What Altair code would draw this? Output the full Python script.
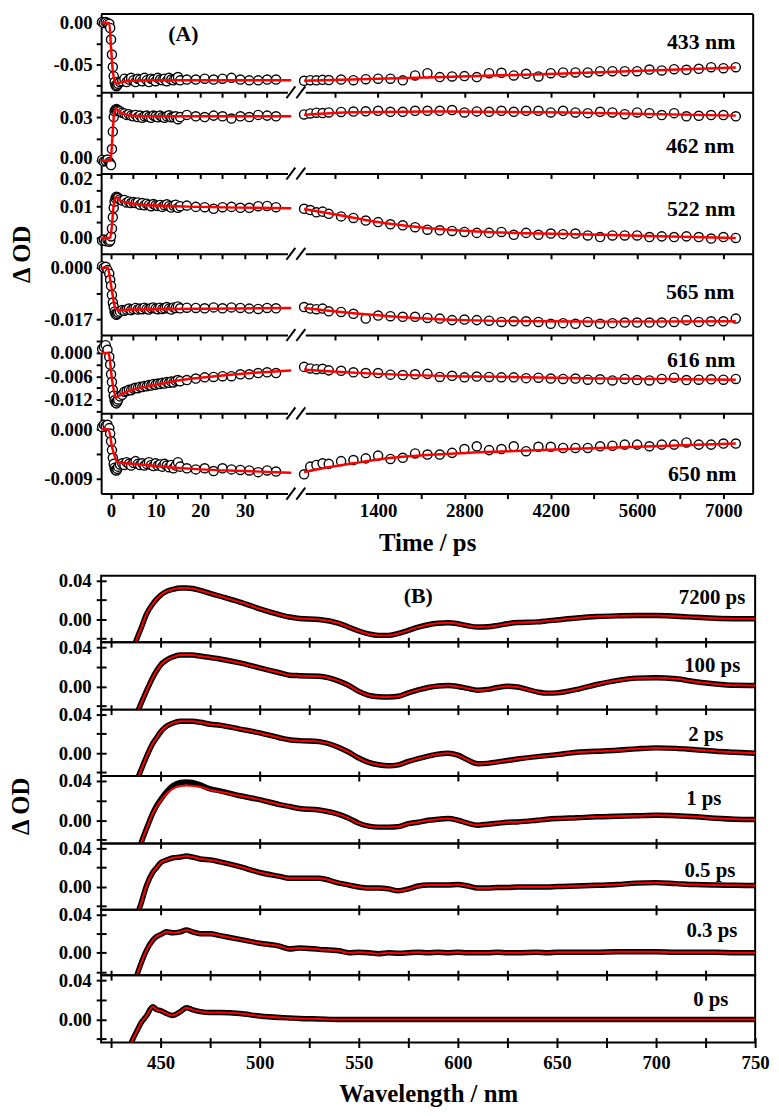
import altair as alt
import pandas as pd

FONT = "Liberation Serif"

# ---------------- Panel (A): kinetic traces (time in ps) ----------------
TL = [-2.0, -1.6, -1.2, -0.8, -0.4, -0.2, 0.0, 0.2, 0.4, 0.6, 0.8, 1.0, 1.2, 1.4, 1.6,
      2.0, 2.5, 3.0, 3.5, 4.0, 4.5, 5.0, 5.5, 6.0, 6.5, 7.0, 7.5, 8.0, 8.5, 9.0, 9.5,
      10.0, 10.5, 11.0, 11.5, 12.0, 12.5, 13.0, 13.5, 14.0, 14.5, 15.0, 15.5,
      17.0, 19.0, 21.0, 23.0, 25.0, 27.0, 29.0, 31.0, 33.0, 35.0, 37.0]
TR = [200, 300, 400, 500, 600, 800, 1000, 1200, 1400, 1600, 1800, 2000, 2200, 2400, 2600,
      2800, 3000, 3200, 3400, 3600, 3800, 4000, 4200, 4400, 4600, 4800, 5000, 5200, 5400,
      5600, 5800, 6000, 6200, 6400, 6600, 6800, 7000, 7200]

A433_L = [0.001, 0.000, 0.001, 0.000, -0.001, -0.006, -0.020, -0.038, -0.053, -0.064, -0.071, -0.075, -0.076, -0.075, -0.073,
          -0.071, -0.070, -0.067, -0.071, -0.068, -0.066, -0.069, -0.071, -0.067, -0.068, -0.070, -0.066, -0.069, -0.071,
          -0.067, -0.068, -0.070, -0.066, -0.068, -0.069, -0.067, -0.070, -0.066, -0.068, -0.069, -0.067, -0.065, -0.069,
          -0.068, -0.068, -0.067, -0.068, -0.067, -0.066, -0.068, -0.069, -0.069, -0.068, -0.068]
A433_R = [-0.0695, -0.0688, -0.0690, -0.0684, -0.0686, -0.0680, -0.0688, -0.0676,
          -0.0670, -0.0670, -0.0690, -0.0631, -0.0604, -0.0651, -0.0643, -0.0639, -0.0651, -0.0604,
          -0.0599, -0.0631, -0.0611, -0.0643, -0.0604, -0.0595, -0.0595, -0.0595, -0.0580, -0.0580,
          -0.0580, -0.0580, -0.0560, -0.0571, -0.0556, -0.0563, -0.0551, -0.0532, -0.0544, -0.0532]
F433_LT = [-2.2, -0.4, 0.0, 0.4, 0.7, 1.1, 2.0, 3.0, 5.0, 10.0, 40.4]
F433_LV = [0.0, 0.0, -0.030, -0.058, -0.068, -0.0726, -0.0715, -0.0703, -0.0695, -0.0690, -0.0690]
F433_RT = [200, 1400, 4300, 7200]
F433_RV = [-0.0695, -0.0670, -0.0611, -0.0536]

A462_L = [0.0005, -0.0005, 0.000, 0.0008, -0.001, -0.002, -0.003, 0.008, 0.020, 0.030, 0.034, 0.035, 0.0355, 0.035, 0.0345,
          0.034, 0.033, 0.0325, 0.0315, 0.032, 0.031, 0.0305, 0.0315, 0.030, 0.031, 0.0295, 0.0305, 0.031, 0.030,
          0.0295, 0.031, 0.0305, 0.0298, 0.031, 0.030, 0.0295, 0.0305, 0.0312, 0.0298, 0.030, 0.0305, 0.0285, 0.030,
          0.0315, 0.0305, 0.030, 0.031, 0.0305, 0.029, 0.0305, 0.030, 0.0315, 0.031, 0.0305]
A462_R = [0.0318, 0.0325, 0.0330, 0.0328, 0.0332, 0.0335, 0.0338, 0.0340,
          0.0343, 0.0336, 0.0336, 0.0343, 0.0343, 0.0343, 0.0348, 0.0332, 0.0339, 0.0336,
          0.0343, 0.0336, 0.0343, 0.0343, 0.0332, 0.0343, 0.0332, 0.0327, 0.0336, 0.0332,
          0.0320, 0.0332, 0.0327, 0.0314, 0.0327, 0.0305, 0.0309, 0.0314, 0.0314, 0.0305]
F462_LT = [-2.2, -0.1, 0.3, 0.7, 1.1, 2.0, 3.0, 5.0, 10.0, 40.4]
F462_LV = [0.0, 0.0, 0.016, 0.033, 0.0355, 0.0335, 0.0320, 0.0310, 0.0306, 0.0305]
F462_RT = [200, 1000, 2500, 4500, 7200]
F462_RV = [0.0315, 0.0333, 0.0338, 0.0332, 0.0310]

A522_L = [-0.0008, -0.0005, -0.0010, -0.0006, -0.0012, -0.0008, 0.0005, 0.003, 0.0065, 0.0095, 0.0115, 0.0125, 0.0130, 0.0128, 0.0126,
          0.0122, 0.0118, 0.0120, 0.0112, 0.0115, 0.0110, 0.0113, 0.0110, 0.0112, 0.0105, 0.0110, 0.0103, 0.0108, 0.0104,
          0.0100, 0.0107, 0.0103, 0.0101, 0.0104, 0.0098, 0.0103, 0.0106, 0.0100, 0.0096, 0.0102, 0.0105, 0.0095, 0.0100,
          0.0102, 0.0098, 0.0097, 0.0092, 0.0097, 0.0098, 0.0095, 0.0095, 0.0100, 0.0101, 0.0097]
A522_R = [0.0092, 0.0088, 0.0081, 0.0083, 0.0076, 0.0068, 0.0063, 0.0055,
          0.0050, 0.0043, 0.0040, 0.0034, 0.0026, 0.0024, 0.0022, 0.0019, 0.0016, 0.0016,
          0.0019, 0.0010, 0.0016, 0.0010, 0.0014, 0.0012, 0.0014, 0.0008, 0.0003, 0.0008,
          0.0008, 0.0008, 0.0003, 0.0005, 0.0003, 0.0005, 0.0003, -0.0002, 0.0003, 0.0000]
F522_LT = [-2.2, -0.2, 0.2, 0.6, 1.1, 2.0, 4.0, 10.0, 20.0, 40.4]
F522_LV = [0.0, 0.0, 0.004, 0.0105, 0.0128, 0.0118, 0.0110, 0.0102, 0.0098, 0.0094]
F522_RT = [200, 600, 1000, 1400, 2000, 3000, 4600, 5800, 7200]
F522_RV = [0.0091, 0.0078, 0.0064, 0.0050, 0.0035, 0.0020, 0.0012, 0.0006, 0.0000]

A565_L = [0.0005, 0.0, 0.0003, -0.0008, -0.002, -0.004, -0.006, -0.009, -0.0115, -0.013, -0.0145, -0.0152, -0.0155, -0.0152, -0.0148,
          -0.0145, -0.0140, -0.0142, -0.0138, -0.0135, -0.0140, -0.0136, -0.0133, -0.0138, -0.0135, -0.0137, -0.0132, -0.0136, -0.0138,
          -0.0133, -0.0131, -0.0135, -0.0137, -0.0132, -0.0136, -0.0134, -0.0130, -0.0135, -0.0138, -0.0131, -0.0133, -0.0128, -0.0134,
          -0.0132, -0.0133, -0.0134, -0.0131, -0.0134, -0.0131, -0.0133, -0.0135, -0.0136, -0.0133, -0.0134]
A565_R = [-0.0130, -0.0135, -0.0137, -0.0135, -0.0144, -0.0146, -0.0152, -0.0168,
          -0.0158, -0.0160, -0.0162, -0.0162, -0.0166, -0.0168, -0.0173, -0.0171, -0.0173, -0.0175,
          -0.0179, -0.0177, -0.0177, -0.0179, -0.0185, -0.0183, -0.0185, -0.0179, -0.0185, -0.0183,
          -0.0181, -0.0181, -0.0181, -0.0181, -0.0179, -0.0173, -0.0179, -0.0177, -0.0177, -0.0168]
F565_LT = [-2.2, -0.7, -0.2, 0.3, 0.7, 1.1, 2.0, 5.0, 40.4]
F565_LV = [0.0, 0.0, -0.004, -0.0085, -0.0120, -0.0137, -0.0140, -0.0138, -0.0133]
F565_RT = [200, 600, 1000, 1400, 2000, 2800, 3500, 5000, 7200]
F565_RV = [-0.0133, -0.0142, -0.0150, -0.0157, -0.0166, -0.0173, -0.0176, -0.0178, -0.0177]

A616_L = [0.0010, 0.0016, 0.0020, 0.0008, -0.001, -0.003, -0.0055, -0.0075, -0.0095, -0.011, -0.0122, -0.0128, -0.0130, -0.0125, -0.0120,
          -0.0112, -0.0108, -0.0100, -0.0098, -0.0095, -0.0096, -0.0092, -0.0090, -0.0091, -0.0087, -0.0088, -0.0085, -0.0086, -0.0083,
          -0.0084, -0.0080, -0.0082, -0.0079, -0.0080, -0.0077, -0.0079, -0.0075, -0.0077, -0.0074, -0.0076, -0.0072, -0.0070, -0.0073,
          -0.0070, -0.0066, -0.0063, -0.0062, -0.0060, -0.0060, -0.0055, -0.0055, -0.0052, -0.0050, -0.0052]
A616_R = [-0.0036, -0.0040, -0.0042, -0.0041, -0.0045, -0.0046, -0.0050, -0.0052,
          -0.0052, -0.0056, -0.0057, -0.0055, -0.0054, -0.0062, -0.0059, -0.0063, -0.0061, -0.0062,
          -0.0063, -0.0063, -0.0065, -0.0064, -0.0066, -0.0067, -0.0066, -0.0069, -0.0068, -0.0071,
          -0.0067, -0.0070, -0.0071, -0.0067, -0.0064, -0.0070, -0.0069, -0.0068, -0.0069, -0.0067]
F616_LT = [-2.2, -0.6, 0.3, 1.1, 2.5, 5.2, 10.0, 15.0, 20.0, 25.0, 30.0, 35.0, 40.4]
F616_LV = [0.0, 0.0, -0.0075, -0.0115, -0.0105, -0.0094, -0.0082, -0.0071, -0.0064, -0.0058, -0.0053, -0.0049, -0.0045]
F616_RT = [200, 800, 1400, 3000, 5000, 7200]
F616_RV = [-0.0043, -0.0049, -0.0054, -0.0061, -0.0066, -0.0069]

A650_L = [0.0004, 0.0008, 0.0006, 0.0008, 0.0002, -0.0008, -0.0022, -0.0038, -0.0052, -0.0063, -0.0070, -0.0074, -0.0075, -0.0072, -0.0068,
          -0.0064, -0.0062, -0.0065, -0.0060, -0.0063, -0.0066, -0.0061, -0.0058, -0.0063, -0.0065, -0.0062, -0.0066, -0.0063, -0.0060,
          -0.0065, -0.0067, -0.0062, -0.0066, -0.0064, -0.0068, -0.0063, -0.0066, -0.0069, -0.0065, -0.0071, -0.0066, -0.0060, -0.0068,
          -0.0071, -0.0073, -0.0071, -0.0076, -0.0071, -0.0073, -0.0074, -0.0075, -0.0078, -0.0075, -0.0077]
A650_R = [-0.0082, -0.0068, -0.0065, -0.0062, -0.0063, -0.0058, -0.0056, -0.0053,
          -0.0048, -0.0054, -0.0052, -0.0044, -0.0046, -0.0046, -0.0043, -0.0036, -0.0031, -0.0038,
          -0.0036, -0.0031, -0.0040, -0.0032, -0.0032, -0.0034, -0.0034, -0.0034, -0.0031, -0.0030,
          -0.0028, -0.0028, -0.0031, -0.0028, -0.0028, -0.0024, -0.0028, -0.0028, -0.0026, -0.0026]
F650_LT = [-2.2, -0.6, 0.3, 1.5, 5.0, 10.0, 20.0, 30.0, 40.4]
F650_LV = [0.0, 0.0, -0.0035, -0.0060, -0.0063, -0.0067, -0.0073, -0.0076, -0.0079]
F650_RT = [200, 500, 1000, 1400, 2500, 3500, 5000, 7200]
F650_RV = [-0.0078, -0.0071, -0.0062, -0.0055, -0.0045, -0.0040, -0.0034, -0.0026]

A_NAMES = ["433 nm", "462 nm", "522 nm", "565 nm", "616 nm", "650 nm"]

# ---------------- Panel (B): transient spectra ----------------
LAM = [434, 436, 438, 440, 443, 446, 448, 450, 453, 456, 460, 463, 466, 470, 475, 480, 490, 500, 510, 515,
       520, 530, 540, 545, 550, 555, 560, 565, 570, 575, 580, 585, 590, 595, 600, 605, 610, 615, 620, 625,
       630, 640, 645, 650, 660, 670, 680, 690, 700, 710, 720, 730, 740, 750]

S7200 = [-0.042, -0.031, -0.020, -0.010, 0.006, 0.016, 0.021, 0.025, 0.029, 0.031,
         0.0325, 0.0325, 0.032, 0.030, 0.027, 0.024, 0.018, 0.011, 0.005, 0.0025,
         0.001, 0.000, -0.004, -0.008, -0.012, -0.015, -0.0165, -0.0165, -0.0145, -0.0113,
         -0.008, -0.0055, -0.004, -0.0035, -0.0045, -0.0065, -0.0078, -0.0075, -0.0062, -0.0045,
         -0.0032, -0.0025, -0.0015, -0.0005, 0.0015, 0.003, 0.0037, 0.004, 0.004, 0.0033,
         0.0022, 0.0012, 0.0008, 0.0007]
S100 = [-0.050, -0.040, -0.028, -0.018, -0.004, 0.009, 0.016, 0.022, 0.027, 0.030,
        0.032, 0.032, 0.032, 0.031, 0.0295, 0.028, 0.024, 0.019, 0.014, 0.0115,
        0.011, 0.0105, 0.0055, 0.001, -0.005, -0.009, -0.0105, -0.0108, -0.0100, -0.0065,
        -0.0035, -0.001, 0.0005, 0.001, 0.000, -0.002, -0.0038, -0.003, -0.001, 0.0003,
        -0.0005, -0.0055, -0.0068, -0.0065, -0.003, 0.002, 0.006, 0.0085, 0.009, 0.0078,
        0.0048, 0.0025, 0.0012, 0.001]
S2 = [-0.050, -0.040, -0.028, -0.018, -0.003, 0.010, 0.016, 0.022, 0.028, 0.031,
      0.033, 0.033, 0.033, 0.032, 0.030, 0.029, 0.025, 0.021, 0.016, 0.014,
      0.013, 0.012, 0.006, 0.001, -0.005, -0.0095, -0.0120, -0.0130, -0.0120, -0.0085,
      -0.0055, -0.003, -0.001, 0.000, -0.002, -0.007, -0.011, -0.0105, -0.009, -0.0075,
      -0.006, -0.0035, -0.0025, -0.0015, 0.001, 0.002, 0.003, 0.0045, 0.0055, 0.005,
      0.0035, 0.002, 0.001, 0.000]
S1 = [-0.060, -0.048, -0.035, -0.024, -0.008, 0.007, 0.015, 0.021, 0.029, 0.035,
      0.0385, 0.039, 0.0385, 0.036, 0.032, 0.030, 0.025, 0.021, 0.016, 0.014,
      0.012, 0.0105, 0.006, 0.002, -0.003, -0.006, -0.007, -0.007, -0.0065, -0.0035,
      -0.002, 0.000, 0.001, 0.0017, 0.000, -0.003, -0.005, -0.004, -0.003, -0.002,
      -0.0017, 0.000, 0.001, 0.0017, 0.0025, 0.0035, 0.004, 0.0045, 0.005, 0.0045,
      0.0035, 0.002, 0.001, 0.0007]
FIT1 = [-0.060, -0.048, -0.035, -0.024, -0.008, 0.007, 0.014, 0.020, 0.027, 0.032,
        0.035, 0.0355, 0.035, 0.034, 0.031, 0.029, 0.025, 0.021, 0.016, 0.014,
        0.012, 0.0105, 0.006, 0.002, -0.003, -0.006, -0.007, -0.007, -0.0065, -0.0035,
        -0.002, 0.000, 0.001, 0.0017, 0.000, -0.003, -0.005, -0.004, -0.003, -0.002,
        -0.0017, 0.000, 0.001, 0.0017, 0.0025, 0.0035, 0.004, 0.0045, 0.005, 0.0045,
        0.0035, 0.002, 0.001, 0.0007]
S05 = [-0.060, -0.045, -0.030, -0.018, 0.002, 0.015, 0.020, 0.025, 0.028, 0.030,
       0.031, 0.032, 0.031, 0.029, 0.028, 0.026, 0.021, 0.015, 0.011, 0.009,
       0.009, 0.009, 0.004, 0.002, 0.000, -0.001, -0.001, -0.002, -0.004, -0.002,
       0.001, 0.002, 0.002, 0.002, 0.0025, 0.001, -0.001, -0.001, -0.0005, -0.0005,
       0.000, 0.000, 0.000, 0.0005, 0.001, 0.0017, 0.0025, 0.004, 0.0045, 0.0035,
       0.0025, 0.002, 0.0017, 0.0015]
S03 = [-0.060, -0.038, -0.024, -0.012, 0.003, 0.013, 0.017, 0.019, 0.022, 0.021,
       0.022, 0.024, 0.022, 0.020, 0.020, 0.018, 0.014, 0.010, 0.007, 0.004,
       0.005, 0.0035, 0.002, 0.000, 0.0005, 0.000, -0.001, 0.000, -0.0005, 0.000,
       0.0005, 0.000, 0.0005, 0.000, 0.0005, 0.000, 0.000, 0.000, 0.0005, 0.000,
       0.000, 0.0005, 0.000, 0.0005, 0.0005, 0.0005, 0.001, 0.001, 0.001, 0.0005,
       0.0005, 0.0005, 0.000, 0.000]
S0 = [-0.030, -0.020, -0.012, -0.004, 0.004, 0.013, 0.010, 0.009, 0.006, 0.004,
      0.008, 0.012, 0.010, 0.008, 0.007, 0.007, 0.006, 0.0035, 0.002, 0.0015,
      0.001, 0.0005, 0.000, 0.000, 0.000, 0.000, 0.000, 0.000, 0.000, 0.000,
      0.000, 0.000, 0.000, 0.000, 0.000, 0.000, 0.000, 0.000, 0.000, 0.000,
      0.000, 0.000, 0.000, 0.000, 0.000, 0.000, 0.000, 0.000, 0.000, 0.000,
      0.000, 0.000, 0.000, 0.000]

B_NAMES = ["7200 ps", "100 ps", "2 ps", "1 ps", "0.5 ps", "0.3 ps", "0 ps"]

# ---------------- layout / style settings ----------------
AW, BW = 658, 660
A_CFG = [
    dict(h=79, dom=[-0.08334, 0.01071], ticks=[0.0, -0.025, -0.05, -0.075],
         labels={0.0: "0.00", -0.05: "-0.05"}, nx=640, ny=28, nudge=None),
    dict(h=82, dom=[-0.00886, 0.04705], ticks=[0.045, 0.03, 0.015, 0.0],
         labels={0.03: "0.03", 0.0: "0.00"}, nx=639, ny=54, nudge=(0.0, -3)),
    dict(h=81, dom=[-0.00500, 0.02031], ticks=[0.02, 0.015, 0.01, 0.005, 0.0],
         labels={0.02: "0.02", 0.01: "0.01", 0.0: "0.00"}, nx=640, ny=36, nudge=(0.02, 4)),
    dict(h=82, dom=[-0.02223, 0.004577], ticks=[0.0, -0.0085, -0.017],
         labels={0.0: "0.000", -0.017: "-0.017"}, nx=639, ny=39, nudge=None),
    dict(h=79, dom=[-0.01557, 0.004596], ticks=[0.003, 0.0, -0.003, -0.006, -0.009, -0.012, -0.015],
         labels={0.0: "0.000", -0.006: "-0.006", -0.012: "-0.012"}, nx=640, ny=25, nudge=None),
    dict(h=81, dom=[-0.01170, 0.00288], ticks=[0.0, -0.0045, -0.009],
         labels={0.0: "0.000", -0.009: "-0.009"}, nx=641, ny=61, nudge=None),
]
X25 = [425, 450, 475, 500, 525, 550, 575, 600, 625, 650, 675, 700, 725]
X50 = [450, 500, 550, 600, 650, 700]
B_CFG = [
    dict(h=67, xt=X25, nx=650, ny=22),
    dict(h=68, xt=X25, nx=645, ny=24),
    dict(h=67, xt=X50, nx=628, ny=26),
    dict(h=68, xt=X50, nx=626, ny=23),
    dict(h=67, xt=X50, nx=640, ny=28),
    dict(h=66, xt=X25, nx=642, ny=21),
    dict(h=68, xt=X25 + [750], nx=633, ny=25),
]

one = pd.DataFrame({"d": [0]})


def lab_expr(d):
    s = ""
    for v, t in d.items():
        s += f"datum.value === {v} ? '{t}' : "
    return s + "''"


def rule(x, x2, y, y2, w=2):
    return alt.Chart(one).mark_rule(color="black", strokeWidth=w).encode(
        x=alt.value(x), x2=alt.value(x2), y=alt.value(y), y2=alt.value(y2))


def label(text, x, y, size, align="right"):
    return alt.Chart(one).mark_text(text=text, align=align, baseline="middle", font=FONT,
                                    fontSize=size, fontWeight="bold", color="black").encode(
        x=alt.value(x), y=alt.value(y))


XL_SCALE = alt.Scale(domain=[-2.222, 39.556], range=[0, 188], nice=False, zero=False)
XR_SCALE = alt.Scale(domain=[219, 7482], range=[206, AW], nice=False, zero=False)
PT = dict(shape="circle", filled=True, fill="white", stroke="black", strokeWidth=1.4, size=85, opacity=1)
LN = dict(color="#ff0000", strokeWidth=2.5, interpolate="monotone")


def a_row(k, dl, dr, flt, flv, frt, frv):
    c = A_CFG[k]
    H = c["h"]
    last = k == len(A_CFG) - 1
    ysc = alt.Scale(domain=c["dom"], nice=False, zero=False)
    yargs = dict(values=c["ticks"], labelExpr=lab_expr(c["labels"]), tickSize=5, tickWidth=2,
                 domainWidth=2, labelPadding=4, labelOverlap=False, orient="left")
    if c["nudge"] is not None:
        yargs["labelOffset"] = {"condition": {"test": f"datum.value === {c['nudge'][0]}",
                                              "value": c["nudge"][1]}, "value": 0}
    if k == 2:
        yax = alt.Axis(title="Δ OD", titleX=-80, titleY=81, titleAngle=270, titleAlign="center",
                       titleBaseline="middle", **yargs)
    else:
        yax = alt.Axis(title=None, **yargs)
    xcommon = dict(tickSize=5, tickWidth=2, domainWidth=2, labels=last, labelPadding=3,
                   labelFlush=False, labelOverlap=False, orient="bottom")
    xl_ax = alt.Axis(values=[0, 5, 10, 15, 20, 25, 30, 35], title=None,
                     labelExpr="datum.value % 10 === 0 ? '' + datum.value : ''", **xcommon)
    rvals = [700, 1400, 2100, 2800, 3500, 4200, 4900, 5600, 6300, 7000]
    rexpr = "datum.value % 1400 === 0 ? '' + datum.value : ''"
    if last:
        xr_ax = alt.Axis(values=rvals, labelExpr=rexpr, title="Time / ps", titleX=329, titleY=49,
                         titleAlign="center", titleBaseline="middle", **xcommon)
    else:
        xr_ax = alt.Axis(values=rvals, labelExpr=rexpr, title=None, **xcommon)

    def enc(ch, xs, xa):
        return ch.encode(x=alt.X("t:Q", scale=xs, axis=xa), y=alt.Y("v:Q", scale=ysc, axis=yax))

    left = alt.layer(
        enc(alt.Chart(pd.DataFrame({"t": TL, "v": dl})).mark_point(**PT), XL_SCALE, xl_ax),
        enc(alt.Chart(pd.DataFrame({"t": flt, "v": flv})).mark_line(**LN), XL_SCALE, xl_ax),
    )
    right = alt.layer(
        enc(alt.Chart(pd.DataFrame({"t": TR, "v": dr})).mark_point(**PT), XR_SCALE, xr_ax),
        enc(alt.Chart(pd.DataFrame({"t": frt, "v": frv})).mark_line(**LN), XR_SCALE, xr_ax),
    )
    deco = [rule(AW, AW, 0, H), rule(187, 196, H + 6, H - 6), rule(197, 206, H + 6, H - 6),
            label(A_NAMES[k], c["nx"], c["ny"], 22)]
    if k == 0:
        deco += [rule(0, AW, 0, 0), label("(A)", 83, 20, 22, "center")]
    return alt.layer(left, right, *deco).resolve_scale(x="independent").properties(width=AW, height=H)


def b_row(k, data, fit):
    c = B_CFG[k]
    H = c["h"]
    last = k == len(B_CFG) - 1
    df = pd.DataFrame({"w": LAM, "v": data, "f": fit})
    xsc = alt.Scale(domain=[420, 750], nice=False, zero=False)
    ysc = alt.Scale(domain=[-0.0236, 0.0451], nice=False, zero=False)
    xargs = dict(values=c["xt"], labels=last, labelExpr="datum.value % 50 === 0 ? '' + datum.value : ''",
                 offset=-5, tickSize=10, tickWidth=2, domain=False, labelPadding=6, labelFlush=False,
                 labelOverlap=False, orient="bottom")
    if last:
        xax = alt.Axis(title="Wavelength / nm", titleX=330, titleY=56, titleAlign="center",
                       titleBaseline="middle", **xargs)
    else:
        xax = alt.Axis(title=None, **xargs)
    yargs = dict(values=[-0.02, 0.0, 0.02, 0.04], labelExpr=lab_expr({0.0: "0.00", 0.04: "0.04"}),
                 offset=-5, tickSize=10, tickWidth=2, domain=False, labelPadding=5, labelOverlap=False,
                 orient="left")
    if k == 3:
        yax = alt.Axis(title="Δ OD", titleX=-86, titleY=30, titleAngle=270, titleAlign="center",
                       titleBaseline="middle", **yargs)
    else:
        yax = alt.Axis(title=None, **yargs)
    black = alt.Chart(df).mark_line(color="black", strokeWidth=5.5, clip=True, interpolate="monotone").encode(
        x=alt.X("w:Q", scale=xsc, axis=xax), y=alt.Y("v:Q", scale=ysc, axis=yax))
    red = alt.Chart(df).mark_line(color="#ff0000", strokeWidth=2, clip=True, interpolate="monotone").encode(
        x=alt.X("w:Q", scale=xsc, axis=xax), y=alt.Y("f:Q", scale=ysc, axis=yax))
    layers = [black, red, label(B_NAMES[k], c["nx"], c["ny"], 21)]
    if k == 0:
        layers.append(label("(B)", 320, 20, 22, "center"))
    return alt.layer(*layers).properties(width=BW, height=H,
                                         view=alt.ViewBackground(stroke="black", strokeWidth=2))


a_rows = [
    a_row(0, A433_L, A433_R, F433_LT, F433_LV, F433_RT, F433_RV),
    a_row(1, A462_L, A462_R, F462_LT, F462_LV, F462_RT, F462_RV),
    a_row(2, A522_L, A522_R, F522_LT, F522_LV, F522_RT, F522_RV),
    a_row(3, A565_L, A565_R, F565_LT, F565_LV, F565_RT, F565_RV),
    a_row(4, A616_L, A616_R, F616_LT, F616_LV, F616_RT, F616_RV),
    a_row(5, A650_L, A650_R, F650_LT, F650_LV, F650_RT, F650_RV),
]
b_rows = [
    b_row(0, S7200, S7200),
    b_row(1, S100, S100),
    b_row(2, S2, S2),
    b_row(3, S1, FIT1),
    b_row(4, S05, S05),
    b_row(5, S03, S03),
    b_row(6, S0, S0),
]
spacer = alt.Chart(one).mark_point(opacity=0).encode(x=alt.value(0), y=alt.value(0)).properties(width=BW, height=83)

chart = alt.VConcatChart(
    vconcat=a_rows + [spacer] + b_rows,
    spacing=0,
    bounds="flush",
    padding={"left": 0, "top": 0, "right": 0, "bottom": 0},
    background="white",
).configure_view(strokeWidth=0).configure_axis(
    labelFont=FONT, labelFontSize=19, labelFontWeight="bold", labelColor="black",
    titleFont=FONT, titleFontSize=25, titleFontWeight="bold", titleColor="black",
    domainColor="black", tickColor="black", grid=False,
)

chart.save("out.html", embed_options={"renderer": "svg", "actions": False})
